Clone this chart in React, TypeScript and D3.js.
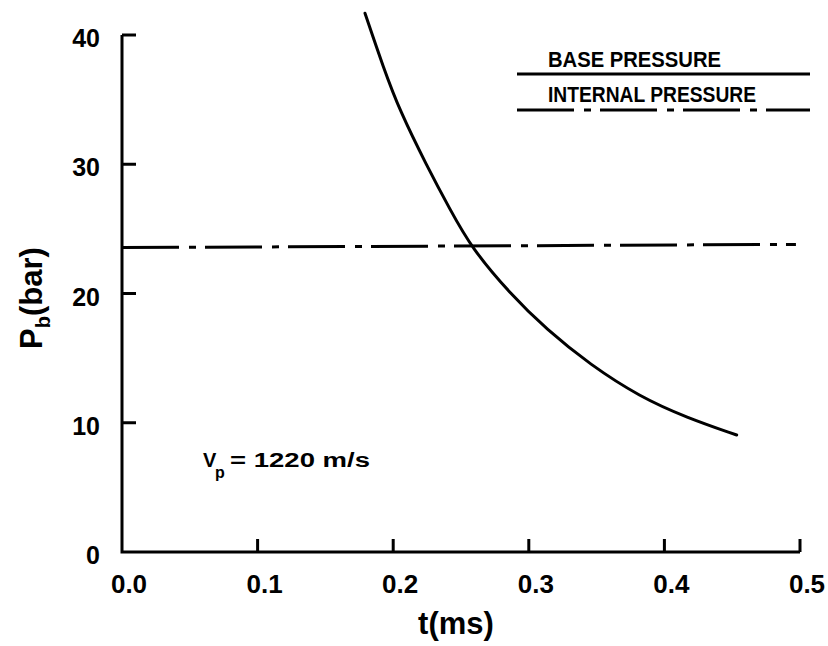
import React from "react";
import * as d3 from "d3";

const basePressureT = [0.1792, 0.1927, 0.205, 0.2247, 0.2419, 0.2579, 0.2861, 0.3132, 0.3451, 0.382, 0.4164, 0.4533];
const basePressureP = [41.68, 37.5, 34.1, 29.9, 26.5, 23.5, 20.0, 17.2, 14.5, 12.0, 10.4, 9.05];
const internalT = [0.0, 0.497];
const internalP = [23.55, 23.8];
const xTicks = [0.1, 0.2, 0.3, 0.4, 0.5];
const xTickLabels = ["0.0", "0.1", "0.2", "0.3", "0.4", "0.5"];
const xLabelValues = [0, 0.1, 0.2, 0.3, 0.4, 0.5];
const yTicks = [10, 20, 30, 40];
const yLabelValues = [0, 10, 20, 30, 40];

const FONT = "'Liberation Sans', Arial, sans-serif";
const DASH = "57 10 7 9";

export default function App() {
  const x = d3.scaleLinear().domain([0, 0.5]).range([122, 800]);
  const y = d3.scaleLinear().domain([0, 40]).range([552, 35]);

  const baseData = basePressureT.map((t, i) => [t, basePressureP[i]] as [number, number]);
  const intData = internalT.map((t, i) => [t, internalP[i]] as [number, number]);

  const line = d3
    .line<[number, number]>()
    .x((d) => x(d[0]))
    .y((d) => y(d[1]))
    .curve(d3.curveBasis);

  const axisPath = `M${x(0)},${y(40)} L${x(0)},${y(0)} L${x(0.5)},${y(0)}`;

  return (
    <svg width={828} height={646} style={{ position: "absolute", left: 0, top: 0, background: "#fff" }}>
      <rect x={0} y={0} width={828} height={646} fill="#fff" />
      {/* axes */}
      <path d={axisPath} fill="none" stroke="#000" strokeWidth={3} strokeLinejoin="miter" />
      {yTicks.map((v) => (
        <line key={"yt" + v} x1={x(0)} x2={x(0) + 14} y1={y(v)} y2={y(v)} stroke="#000" strokeWidth={3} />
      ))}
      {xTicks.map((v) => (
        <line key={"xt" + v} x1={x(v)} x2={x(v)} y1={y(0)} y2={y(0) - 13} stroke="#000" strokeWidth={3} />
      ))}
      {/* tick labels */}
      {yLabelValues.map((v) => (
        <text
          key={"yl" + v}
          x={100}
          y={y(v) + 3}
          textAnchor="end"
          dominantBaseline="central"
          fontFamily={FONT}
          fontWeight="bold"
          fontSize={25}
          fill="#000"
        >
          {v}
        </text>
      ))}
      {xLabelValues.map((v, i) => (
        <text
          key={"xl" + v}
          x={x(v) + 7}
          y={593}
          textAnchor="middle"
          fontFamily={FONT}
          fontWeight="bold"
          fontSize={26}
          fill="#000"
        >
          {xTickLabels[i]}
        </text>
      ))}
      {/* axis titles */}
      <text x={456} y={634} textAnchor="middle" fontFamily={FONT} fontWeight="bold" fontSize={31} fill="#000">
        t(ms)
      </text>
      <g transform="translate(42,298) rotate(-90)">
        <text x={0} y={0} textAnchor="middle" fontFamily={FONT} fontWeight="bold" fontSize={31} fill="#000">
          <tspan>P</tspan>
          <tspan dy={8} fontSize={20}>b</tspan>
          <tspan dy={-8}>(bar)</tspan>
        </text>
      </g>
      {/* data */}
      <path d={line(intData) || ""} fill="none" stroke="#000" strokeWidth={3} strokeDasharray={DASH} />
      <path d={line(baseData) || ""} fill="none" stroke="#000" strokeWidth={3} strokeLinecap="round" />
      {/* legend */}
      <text x={548} y={67} fontFamily={FONT} fontWeight="bold" fontSize={22} fill="#000" textLength={173} lengthAdjust="spacingAndGlyphs">
        BASE PRESSURE
      </text>
      <line x1={517} x2={810} y1={74} y2={74} stroke="#000" strokeWidth={3} />
      <text x={548} y={102} fontFamily={FONT} fontWeight="bold" fontSize={22} fill="#000" textLength={208} lengthAdjust="spacingAndGlyphs">
        INTERNAL PRESSURE
      </text>
      <line x1={517} x2={810} y1={110} y2={110} stroke="#000" strokeWidth={3} strokeDasharray={DASH} />
      {/* annotation */}
      <text x={203} y={467} fontFamily={FONT} fontWeight="bold" fontSize={20} fill="#000">
        V
      </text>
      <text x={215} y={478} fontFamily={FONT} fontWeight="bold" fontSize={16} fill="#000">
        p
      </text>
      <text x={230} y={467} fontFamily={FONT} fontWeight="bold" fontSize={20} fill="#000" textLength={140} lengthAdjust="spacingAndGlyphs">
        = 1220 m/s
      </text>
    </svg>
  );
}
